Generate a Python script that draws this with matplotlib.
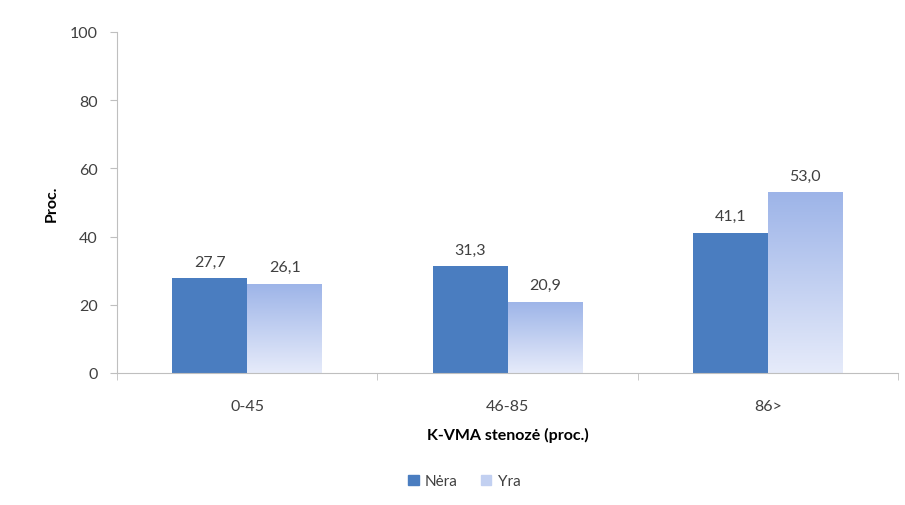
import matplotlib
matplotlib.use("Agg")
import matplotlib.pyplot as plt
import numpy as np
from matplotlib.colors import LinearSegmentedColormap
from matplotlib.patches import Patch

categories = ["0-45", "46-85", "86>"]
nera = [27.7, 31.3, 41.1]
yra = [26.1, 20.9, 53.0]
series_names = ["Nėra", "Yra"]
yticks = [0, 20, 40, 60, 80, 100]

plt.rcParams['font.family'] = ['Lato', 'DejaVu Sans']

fig = plt.figure(figsize=(9.05, 5.06), dpi=100)
ax = fig.add_axes([0.1293, 0.261, 0.863, 0.674])

x = np.arange(len(categories))
w = 0.288
dark = "#4A7DC0"
grad = LinearSegmentedColormap.from_list("g", ["#E6EBFA", "#9DB4E8"])

b1 = ax.bar(x - w / 2, nera, w, color=dark, zorder=2)
b2 = ax.bar(x + w / 2, yra, w, color="none", zorder=2)
for p in b2:
    x0, y0 = p.get_x(), p.get_y()
    x1, y1 = x0 + p.get_width(), y0 + p.get_height()
    im = ax.imshow(np.linspace(0, 1, 256).reshape(-1, 1), cmap=grad,
                   extent=[x0, x1, y0, y1], origin="lower", aspect="auto",
                   zorder=2)
    im.set_clip_path(p)

for xs, vals in ((x - w / 2, nera), (x + w / 2, yra)):
    for xi, v in zip(xs, vals):
        ax.text(xi, v + 2.8, f"{v:.1f}".replace(".", ","), ha="center",
                va="bottom", fontsize=11.5, color="#404040")

ax.set_xlim(-0.5, 2.5)
ax.set_ylim(0, 100)
ax.set_yticks(yticks)
ax.set_xticks(x)
ax.set_xticklabels(categories)
ax.set_xticks([-0.5, 0.5, 1.5, 2.5], minor=True)
ax.tick_params(axis="x", which="major", length=0, pad=19, labelsize=11.5,
               labelcolor="#404040")
ax.tick_params(axis="x", which="minor", length=5, color="#BFBFBF")
ax.tick_params(axis="y", length=5, color="#BFBFBF", labelsize=11.5,
               labelcolor="#404040", pad=9)

for s in ("top", "right"):
    ax.spines[s].set_visible(False)
for s in ("left", "bottom"):
    ax.spines[s].set_color("#BFBFBF")

ax.set_xlabel("K-VMA stenozė (proc.)", fontsize=11.5, fontweight="bold",
              labelpad=10)
ax.set_ylabel("Proc.", fontsize=11.5, fontweight="bold", labelpad=8)

handles = [Patch(color=dark, label=series_names[0]),
           Patch(color="#C2D0F1", label=series_names[1])]
fig.legend(handles=handles, loc="center", bbox_to_anchor=(0.513, 0.047),
           ncol=2, frameon=False, fontsize=11, handlelength=0.7,
           handleheight=0.7, handletextpad=0.4, columnspacing=1.5,
           labelcolor="#404040")

fig.savefig("out.png", dpi=100)
